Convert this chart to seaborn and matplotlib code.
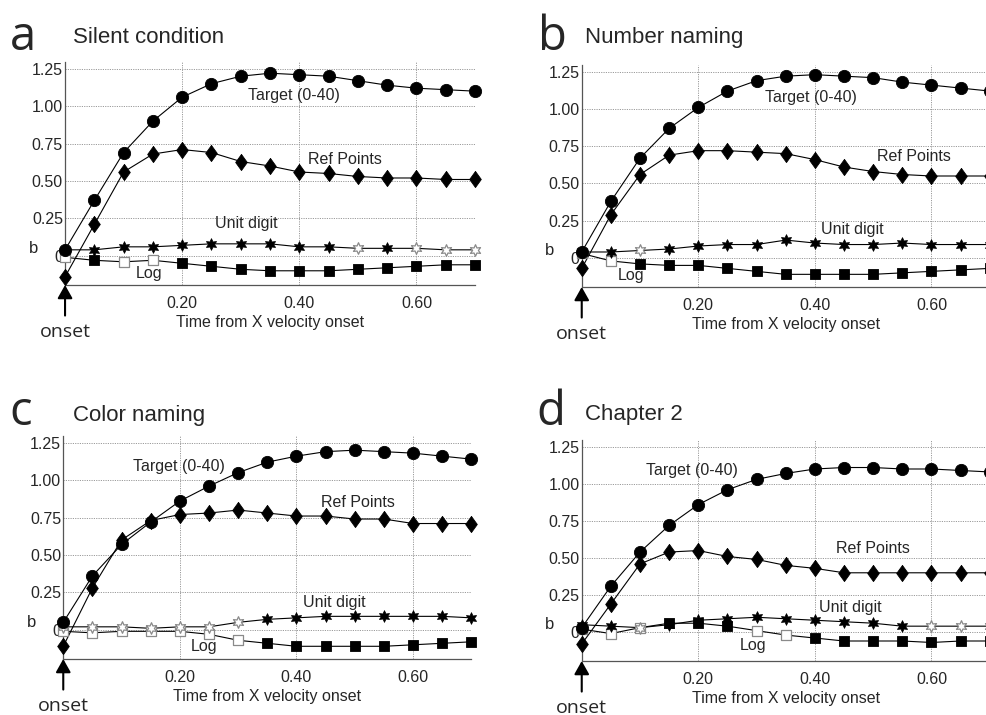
import matplotlib
matplotlib.use("Agg")
import matplotlib.pyplot as plt
import numpy as np
import pandas as pd
import seaborn as sns

sns.set_style("white")
plt.rcParams["font.family"] = ["Liberation Sans", "DejaVu Sans"]

# ---- data -----------------------------------------------------------------
time = [0.00, 0.05, 0.10, 0.15, 0.20, 0.25, 0.30, 0.35,
        0.40, 0.45, 0.50, 0.55, 0.60, 0.65, 0.70]

panel_letters = ["a", "b", "c", "d"]
panel_titles = ["Silent condition", "Number naming", "Color naming", "Chapter 2"]
series_names = ["Target (0-40)", "Ref Points", "Unit digit", "Log"]

target_a = [0.04, 0.37, 0.69, 0.90, 1.06, 1.15, 1.20, 1.22, 1.21, 1.20, 1.17, 1.14, 1.12, 1.11, 1.10]
ref_a    = [-0.14, 0.21, 0.56, 0.68, 0.71, 0.69, 0.63, 0.60, 0.56, 0.55, 0.53, 0.52, 0.52, 0.51, 0.51]
unit_a   = [0.04, 0.04, 0.06, 0.06, 0.07, 0.08, 0.08, 0.08, 0.06, 0.06, 0.05, 0.05, 0.05, 0.04, 0.04]
log_a    = [-0.01, -0.03, -0.04, -0.03, -0.05, -0.07, -0.09, -0.10, -0.10, -0.10, -0.09, -0.08, -0.07, -0.06, -0.06]
unit_ns_a = [10, 12, 13, 14]
log_ns_a  = [0, 2, 3]

target_b = [0.04, 0.38, 0.67, 0.87, 1.01, 1.12, 1.19, 1.22, 1.23, 1.22, 1.21, 1.18, 1.16, 1.14, 1.12]
ref_b    = [-0.07, 0.29, 0.56, 0.69, 0.72, 0.72, 0.71, 0.70, 0.66, 0.61, 0.58, 0.56, 0.55, 0.55, 0.55]
unit_b   = [0.04, 0.04, 0.05, 0.06, 0.08, 0.09, 0.09, 0.12, 0.10, 0.09, 0.09, 0.10, 0.09, 0.09, 0.09]
log_b    = [0.03, -0.02, -0.04, -0.05, -0.05, -0.07, -0.09, -0.11, -0.11, -0.11, -0.11, -0.10, -0.09, -0.08, -0.07]
unit_ns_b = [2]
log_ns_b  = [0, 1]

target_c = [0.05, 0.36, 0.57, 0.72, 0.86, 0.96, 1.05, 1.12, 1.16, 1.19, 1.20, 1.19, 1.18, 1.16, 1.14]
ref_c    = [-0.11, 0.28, 0.60, 0.73, 0.77, 0.78, 0.80, 0.78, 0.76, 0.76, 0.74, 0.74, 0.71, 0.71, 0.71]
unit_c   = [0.02, 0.02, 0.02, 0.01, 0.02, 0.02, 0.05, 0.07, 0.08, 0.09, 0.09, 0.09, 0.09, 0.09, 0.08]
log_c    = [-0.01, -0.02, -0.01, -0.01, -0.01, -0.03, -0.07, -0.09, -0.11, -0.11, -0.11, -0.11, -0.10, -0.09, -0.08]
unit_ns_c = [0, 1, 2, 3, 4, 5, 6]
log_ns_c  = [0, 1, 2, 3, 4, 5, 6]

target_d = [0.03, 0.31, 0.54, 0.72, 0.86, 0.96, 1.03, 1.07, 1.10, 1.11, 1.11, 1.10, 1.10, 1.09, 1.08]
ref_d    = [-0.08, 0.19, 0.46, 0.54, 0.55, 0.51, 0.49, 0.45, 0.43, 0.40, 0.40, 0.40, 0.40, 0.40, 0.40]
unit_d   = [0.05, 0.04, 0.03, 0.05, 0.08, 0.09, 0.10, 0.09, 0.08, 0.07, 0.06, 0.04, 0.04, 0.04, 0.04]
log_d    = [0.02, -0.01, 0.03, 0.06, 0.06, 0.04, 0.01, -0.02, -0.04, -0.06, -0.06, -0.06, -0.07, -0.06, -0.06]
unit_ns_d = [2, 12, 13, 14]
log_ns_d  = [0, 1, 2, 6, 7]

x_ticks = [0.20, 0.40, 0.60]
x_tick_labels = ["0.20", "0.40", "0.60"]
y_ticks = [0.0, 0.25, 0.50, 0.75, 1.00, 1.25]
y_tick_labels = ["0", "0.25", "0.50", "0.75", "1.00", "1.25"]

panels = [
    dict(target=target_a, ref=ref_a, unit=unit_a, log=log_a, unit_ns=unit_ns_a, log_ns=log_ns_a),
    dict(target=target_b, ref=ref_b, unit=unit_b, log=log_b, unit_ns=unit_ns_b, log_ns=log_ns_b),
    dict(target=target_c, ref=ref_c, unit=unit_c, log=log_c, unit_ns=unit_ns_c, log_ns=log_ns_c),
    dict(target=target_d, ref=ref_d, unit=unit_d, log=log_d, unit_ns=unit_ns_d, log_ns=log_ns_d),
]

# ---- layout (figure fractions) and in-plot label placement ---------------
axes_rects = [
    [0.0659, 0.6014, 0.4154, 0.3119],
    [0.5894, 0.5986, 0.4134, 0.3105],
    [0.0641, 0.0783, 0.4135, 0.3120],
    [0.5894, 0.0755, 0.4134, 0.3090],
]
letter_pos = [(0.010, 0.930), (0.545, 0.930), (0.010, 0.4056), (0.543, 0.4056)]
title_pos = [(0.0737, 0.940), (0.5927, 0.940), (0.0737, 0.4112), (0.5927, 0.4126)]
label_pos = [
    [(0.312, 1.07), (0.414, 0.645), (0.256, 0.213), (0.121, -0.12)],
    [(0.314, 1.08), (0.506, 0.680), (0.410, 0.192), (0.062, -0.121)],
    [(0.120, 1.09), (0.442, 0.849), (0.411, 0.181), (0.218, -0.113)],
    [(0.111, 1.09), (0.436, 0.565), (0.407, 0.165), (0.271, -0.092)],
]

fig = plt.figure(figsize=(9.87, 7.15), dpi=100)

GRID = dict(color="#9a9a9a", lw=0.7, ls=(0, (1.2, 1.2)))
OPEN_EDGE = "#8a8a8a"
STAR = (6, 1, 0)
DIAMOND = [(0, 1), (0.72, 0), (0, -1), (-0.72, 0), (0, 1)]

for i, p in enumerate(panels):
    ax = fig.add_axes(axes_rects[i])
    ax.set_xlim(0, 0.70)
    ax.set_ylim(-0.195, 1.295)

    # grid
    for yv in y_ticks:
        ax.axhline(yv, zorder=0, **GRID)
    for xv in x_ticks + [0.70]:
        ax.axvline(xv, zorder=0, **GRID)

    series = [("target", "o", 78), ("ref", DIAMOND, 135), ("unit", STAR, 70), ("log", "s", 48)]
    # connecting lines
    for key, _, _ in series:
        sns.lineplot(x=time, y=p[key], ax=ax, color="black", lw=0.8,
                     estimator=None, sort=False, zorder=2)

    # markers, drawn bottom-up so Target sits on top at onset
    for key, mk, sz in reversed(series):
        vals = np.asarray(p[key])
        ns = set(p.get(key + "_ns", []))
        mask_open = np.array([k in ns for k in range(len(time))])
        t = np.asarray(time)
        if (~mask_open).any():
            sns.scatterplot(x=t[~mask_open], y=vals[~mask_open], ax=ax, marker=mk, s=sz,
                            color="black", edgecolor="black", linewidth=0.6,
                            zorder=3, clip_on=False)
        if mask_open.any():
            sns.scatterplot(x=t[mask_open], y=vals[mask_open], ax=ax, marker=mk, s=sz,
                            facecolor="white", edgecolor=OPEN_EDGE, linewidth=0.9,
                            zorder=3, clip_on=False)

    # series labels
    for (lx, ly), name in zip(label_pos[i], series_names):
        ax.text(lx, ly, name, ha="left", va="center", fontsize=11.5, zorder=4)

    # axes styling
    ax.set_xticks(x_ticks)
    ax.set_xticklabels(x_tick_labels, fontsize=11.5)
    ax.set_yticks(y_ticks)
    ax.set_yticklabels(y_tick_labels, fontsize=11.5)
    ax.tick_params(axis="both", length=0)
    ax.tick_params(axis="x", pad=8)
    ax.tick_params(axis="y", pad=1.5)
    ax.set_xlabel("Time from X velocity onset", fontsize=11.5, labelpad=3)
    ax.set_ylabel("")
    for side in ("top", "right"):
        ax.spines[side].set_visible(False)
    for side in ("left", "bottom"):
        ax.spines[side].set_color("#555555")
        ax.spines[side].set_linewidth(0.9)

    # intercept marker left of the axis
    ax.text(-0.078, 0.05, "b", transform=ax.get_yaxis_transform(),
            ha="center", va="center", fontsize=12)

    # onset arrow below the time axis
    ax.annotate("", xy=(0, 0), xycoords=("data", "axes fraction"),
                xytext=(0, -22), textcoords="offset points",
                arrowprops=dict(arrowstyle="-|>,head_length=0.8,head_width=0.45",
                                color="black", lw=1.5, shrinkA=0, shrinkB=0),
                annotation_clip=False)
    ax.annotate("onset", xy=(0, 0), xycoords=("data", "axes fraction"),
                xytext=(0, -33.5), textcoords="offset points",
                ha="center", va="center", fontsize=14,
                family=["Open Sans", "DejaVu Sans"], annotation_clip=False)

    fig.text(*letter_pos[i], panel_letters[i], fontsize=34, va="baseline",
             family=["Open Sans", "DejaVu Sans"])
    fig.text(*title_pos[i], panel_titles[i], fontsize=16, va="baseline")

fig.savefig("out.png", dpi=100)
